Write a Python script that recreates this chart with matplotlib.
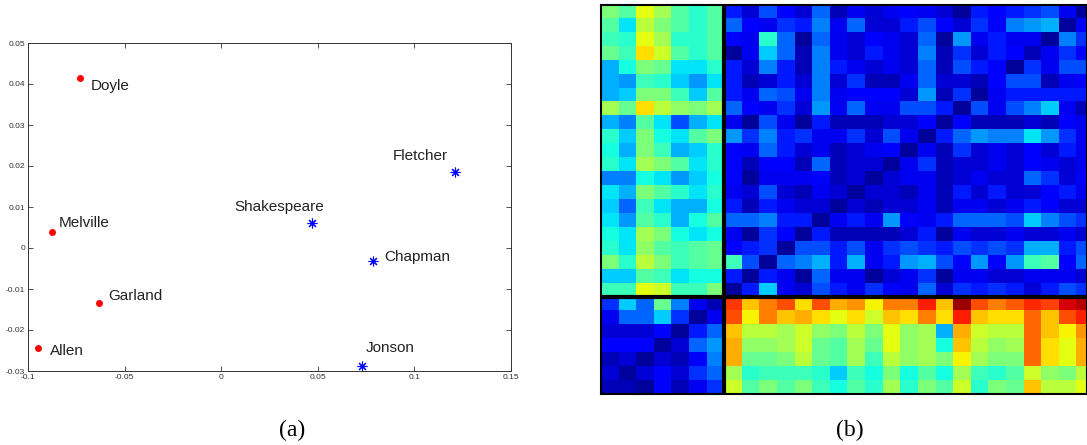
import numpy as np
import matplotlib
matplotlib.use("Agg")
import matplotlib.pyplot as plt

plt.rcParams['font.family'] = ['Liberation Sans', 'DejaVu Sans']
plt.rcParams['axes.unicode_minus'] = False

# (a) 2-D embedding of the authors
group1_names = ['Doyle', 'Melville', 'Garland', 'Allen']
group1_x = [-0.0729, -0.0877, -0.0630, -0.0946]
group1_y = [0.0415, 0.0039, -0.0134, -0.0244]

group2_names = ['Shakespeare', 'Fletcher', 'Chapman', 'Jonson']
group2_x = [0.0470, 0.1211, 0.0788, 0.0730]
group2_y = [0.0062, 0.0185, -0.0031, -0.0288]

# label offsets in pixels (dx, dy, horizontal alignment)
label_offsets = {
    'Doyle': (10, -8, 'left'), 'Melville': (7, 9, 'left'),
    'Garland': (9, 7, 'left'), 'Allen': (12, -3, 'left'),
    'Shakespeare': (12, 16, 'right'), 'Fletcher': (-7, 16, 'right'),
    'Chapman': (11, 4, 'left'), 'Jonson': (3, 18, 'left'),
}

x_ticks = [-0.1, -0.05, 0, 0.05, 0.1, 0.15]
y_ticks = [-0.03, -0.02, -0.01, 0, 0.01, 0.02, 0.03, 0.04, 0.05]

# (b) 28x28 block matrix, values on a 0..20 scale (first 7 / last 21 columns)
top_left = [  # rows 0-20, cols 0-6
    [10, 9, 12.5, 11, 9, 8, 9],
    [9, 7, 11.5, 10, 9, 8, 9],
    [8.5, 8, 12.5, 11, 8, 8, 9],
    [9.5, 8.5, 13.5, 12, 9, 8, 9],
    [6, 7.5, 10, 9.5, 7, 7, 8],
    [6, 5.5, 8.5, 8, 6.5, 5.5, 7],
    [6, 6.5, 10, 10, 8.5, 6.5, 9],
    [11, 9.5, 13.5, 11.5, 10.5, 10, 11],
    [6, 5, 9, 7, 4, 6, 7],
    [8, 6.5, 10, 7.5, 7, 9, 10],
    [7.5, 6, 10, 8.5, 6, 6.5, 8],
    [8, 7, 11, 10, 9, 7, 8],
    [5, 5, 7.5, 7, 5.5, 6.5, 7.5],
    [7, 6, 10, 9, 8, 7, 8],
    [6.5, 4.5, 8.5, 7, 6, 6, 7.5],
    [7, 5.5, 9, 8, 6, 7.5, 9],
    [7.5, 7, 11, 10, 7.5, 7, 7.5],
    [8, 7, 10.5, 9, 8.5, 9, 9.5],
    [10, 8, 11.5, 10, 8.5, 9, 9.5],
    [6.5, 6.5, 9, 8.5, 7, 7.5, 7.5],
    [8.5, 8.5, 12.5, 12, 8.5, 8.5, 10],
]
top_right = [  # rows 0-20, cols 7-27
    [3, 1.5, 4, 2.5, 1.5, 4.5, 1, 2, 1.5, 2, 2.5, 2, 1.5, 0.5, 3, 2.5, 3, 3.5, 4, 2, 0.5],
    [4.5, 2.5, 2, 3.5, 3, 5, 2, 4.5, 1.5, 1.5, 3, 4, 2.5, 1.5, 3.5, 2.5, 5, 5.5, 6, 0.5, 2.5],
    [2.5, 2, 8, 4.5, 0.5, 4.5, 2, 1.5, 2.5, 2, 1.5, 4.5, 0.5, 5.5, 2, 3, 2, 2, 0.5, 5, 3.5],
    [0.5, 2, 6.5, 4.5, 1, 5, 2, 1.5, 3, 2, 1.5, 5, 1, 3.5, 1.5, 3, 2.5, 1, 2, 3.5, 2.5],
    [3, 1.5, 5, 3, 1, 5, 3, 2, 1.5, 2, 1.5, 4.5, 1, 4, 3, 2.5, 0.5, 3.5, 2, 4, 4],
    [3, 1, 1.5, 3, 1.5, 5, 1.5, 3.5, 1, 1, 2, 4.5, 1.5, 1.5, 1, 2.5, 4, 4, 1, 2, 2.5],
    [3, 2, 4.5, 4, 2, 5, 2, 2.5, 2.5, 2.5, 1.5, 5.5, 1, 3.5, 0.5, 2, 3, 3, 3, 3, 3],
    [4.5, 2.5, 2, 3.5, 1.5, 5.5, 2, 4.5, 2, 2, 4, 4, 3, 0.5, 4, 2, 4, 5, 6.5, 2, 1],
    [2, 0.5, 4, 2, 0.5, 3, 1, 1, 1, 1.5, 1.5, 2.5, 0.5, 2.5, 1, 1, 1, 1.5, 1, 2.5, 2],
    [5.5, 3.5, 5, 3, 3.5, 2, 2, 3.5, 1.5, 4, 2, 0.5, 3, 4.5, 5.5, 5, 5, 7, 5.5, 3.5, 2],
    [2.5, 2, 4.5, 3, 1.5, 2, 1, 1.5, 2, 2.5, 0.5, 2, 1, 3.5, 1.5, 2, 1.5, 2.5, 1.5, 3, 2],
    [2.5, 1, 2.5, 2.5, 1, 4.5, 1, 1.5, 1.5, 0.5, 2, 3.5, 1, 1.5, 1.5, 2, 1.5, 2.5, 2, 1.5, 2],
    [2.5, 0.5, 2, 2, 2, 2.5, 1, 1.5, 0.5, 1.5, 2, 2, 1, 1.5, 2, 1.5, 1.5, 4.5, 3.5, 1.5, 2.5],
    [2, 1.5, 4, 1.5, 1, 2, 1.5, 0.5, 1.5, 1.5, 1, 2, 1, 3, 1.5, 3, 1.5, 1.5, 2.5, 3, 2],
    [3, 1, 3, 2, 1.5, 1.5, 0.5, 1.5, 1, 1.5, 1.5, 2, 1, 2, 2, 1.5, 2, 3, 2.5, 1.5, 1.5],
    [4.5, 4.5, 5, 3, 3, 0.5, 2, 3, 2, 5.5, 2.5, 2, 3, 4.5, 4.5, 4.5, 4, 6.5, 5, 4, 3.5],
    [2, 0.5, 3.5, 2.5, 0.5, 3, 1, 1, 1, 1, 1.5, 3, 0.5, 2, 1.5, 1.5, 2, 1.5, 1.5, 2, 1.5],
    [2.5, 3, 3.5, 0.5, 4, 4, 3, 4, 2, 3.5, 4, 3.5, 3, 4, 3.5, 4, 3.5, 6, 6, 3, 4],
    [8.5, 4, 0.5, 4.5, 5, 6, 3, 6, 2, 3, 5.5, 6, 4, 2.5, 5.5, 2.5, 5.5, 8.5, 9, 2.5, 4.5],
    [3, 0.5, 3, 2, 0.5, 4.5, 2, 2, 0.5, 1.5, 2, 3.5, 0.5, 2, 2, 1.5, 1.5, 2, 2, 2, 1.5],
    [0.5, 3, 6.5, 2, 1.5, 4, 3, 2, 3.5, 2.5, 2, 4.5, 1.5, 3.5, 3, 3.5, 3, 1.5, 3, 4, 3.5],
]
bottom_left = [  # rows 21-27, cols 0-6
    [3.5, 6.5, 4.5, 9.5, 5, 2, 1],
    [2, 4.5, 4.5, 6.5, 3.5, 0.5, 2],
    [1.5, 1.5, 1.5, 2.5, 0.5, 3, 4.5],
    [2.5, 2.5, 2.5, 0.5, 1.5, 4.5, 5.5],
    [1, 1.5, 0.5, 1.5, 1, 2.5, 5],
    [1.5, 0.5, 1.5, 2.5, 1.5, 3.5, 4.5],
    [1, 1, 0.5, 2.5, 1, 2, 3.5],
]
bottom_right = [  # rows 21-27, cols 7-27
    [17, 14, 15.5, 16.5, 13.5, 16.5, 14.5, 15, 13, 15.5, 15.5, 17.5, 14, 19.5, 16.5, 15.5, 16.3, 17.3, 16.8, 18.5, 19],
    [16.5, 13, 15.5, 14, 14.5, 13.5, 12.5, 13.5, 12, 14, 13.5, 15.5, 13.5, 17.5, 14, 13.5, 13.5, 16, 14, 16.5, 17.5],
    [14, 11.5, 11.5, 11, 12, 10.5, 10, 11.5, 10, 12.5, 10.5, 11, 6, 14.5, 12, 11.5, 11.5, 16, 14, 13, 15],
    [14.5, 10.5, 10.5, 11, 12, 9.5, 9, 11, 9.5, 12.5, 10.5, 11, 7.5, 14, 11.5, 10.5, 11, 16, 13.5, 12.5, 14.5],
    [14.5, 9.5, 9.5, 10, 11.5, 9.5, 9, 11, 8.5, 11.5, 10.5, 11, 10, 13, 11, 10, 10, 16, 13.5, 12.5, 14.5],
    [11, 8, 8.5, 8.5, 8.5, 8, 6.5, 8.5, 7.5, 10, 7.5, 9, 7.5, 11, 8.5, 8, 9, 12, 10.5, 10, 11.5],
    [12, 9, 10, 9, 10, 8.5, 7.5, 9, 8, 11, 8, 10, 9, 12, 8, 10, 9.5, 14, 11.5, 11.5, 12.5],
]

fig = plt.figure(figsize=(10.87, 4.45), dpi=100)
W, H = 1087.0, 445.0

# ---- panel (a): scatter ----
ax1 = fig.add_axes([28 / W, 1 - 371 / H, (511 - 28) / W, (371 - 43) / H])
ax1.plot(group1_x, group1_y, 'o', color='#ff0000', markersize=5, markeredgewidth=0)
ax1.plot(group2_x, group2_y, linestyle='none', marker=(8, 2, 0), color='#0000ff',
         markersize=7, markeredgewidth=0.8)

for names, xs, ys in [(group1_names, group1_x, group1_y), (group2_names, group2_x, group2_y)]:
    for n, x, y in zip(names, xs, ys):
        dx, dy, ha = label_offsets[n]
        ax1.annotate(n, (x, y), xytext=(dx * 0.72, dy * 0.72), textcoords='offset points',
                     ha=ha, va='center', fontsize=11, color='#222222')

ax1.set_xlim(-0.1, 0.15)
ax1.set_ylim(-0.03, 0.05)
ax1.set_xticks(x_ticks)
ax1.set_yticks(y_ticks)
ax1.set_xticklabels(['-0.1', '-0.05', '0', '0.05', '0.1', '0.15'])
ax1.set_yticklabels(['-0.03', '-0.02', '-0.01', '0', '0.01', '0.02', '0.03', '0.04', '0.05'])
ax1.tick_params(direction='in', length=3.5, width=0.6, labelsize=6, pad=2,
                top=True, right=True, colors='#333333')
for s in ax1.spines.values():
    s.set_linewidth(0.7)
    s.set_color('#333333')

# ---- panel (b): block matrix ----
M = np.zeros((28, 28))
M[:21, :7] = top_left
M[:21, 7:] = top_right
M[21:, :7] = bottom_left
M[21:, 7:] = bottom_right

ax2 = fig.add_axes([601 / W, 1 - 394 / H, (W - 601) / W, (394 - 5) / H])
ax2.imshow(M, cmap='jet', vmin=0, vmax=20, aspect='auto', interpolation='nearest',
           extent=(0, 28, 28, 0))
ax2.set_xlim(0, 27.6)
ax2.set_ylim(28, 0)
ax2.axvline(7, color='black', linewidth=3)
ax2.axhline(21, color='black', linewidth=3)
ax2.set_xticks([])
ax2.set_yticks([])
for s in ax2.spines.values():
    s.set_linewidth(1.5)
    s.set_color('black')

fig.text(292 / W, 1 - 430 / H, '(a)', ha='center', va='center',
         family='Liberation Serif', fontsize=17)
fig.text(850 / W, 1 - 430 / H, '(b)', ha='center', va='center',
         family='Liberation Serif', fontsize=17)

fig.savefig('out.png', dpi=100)
